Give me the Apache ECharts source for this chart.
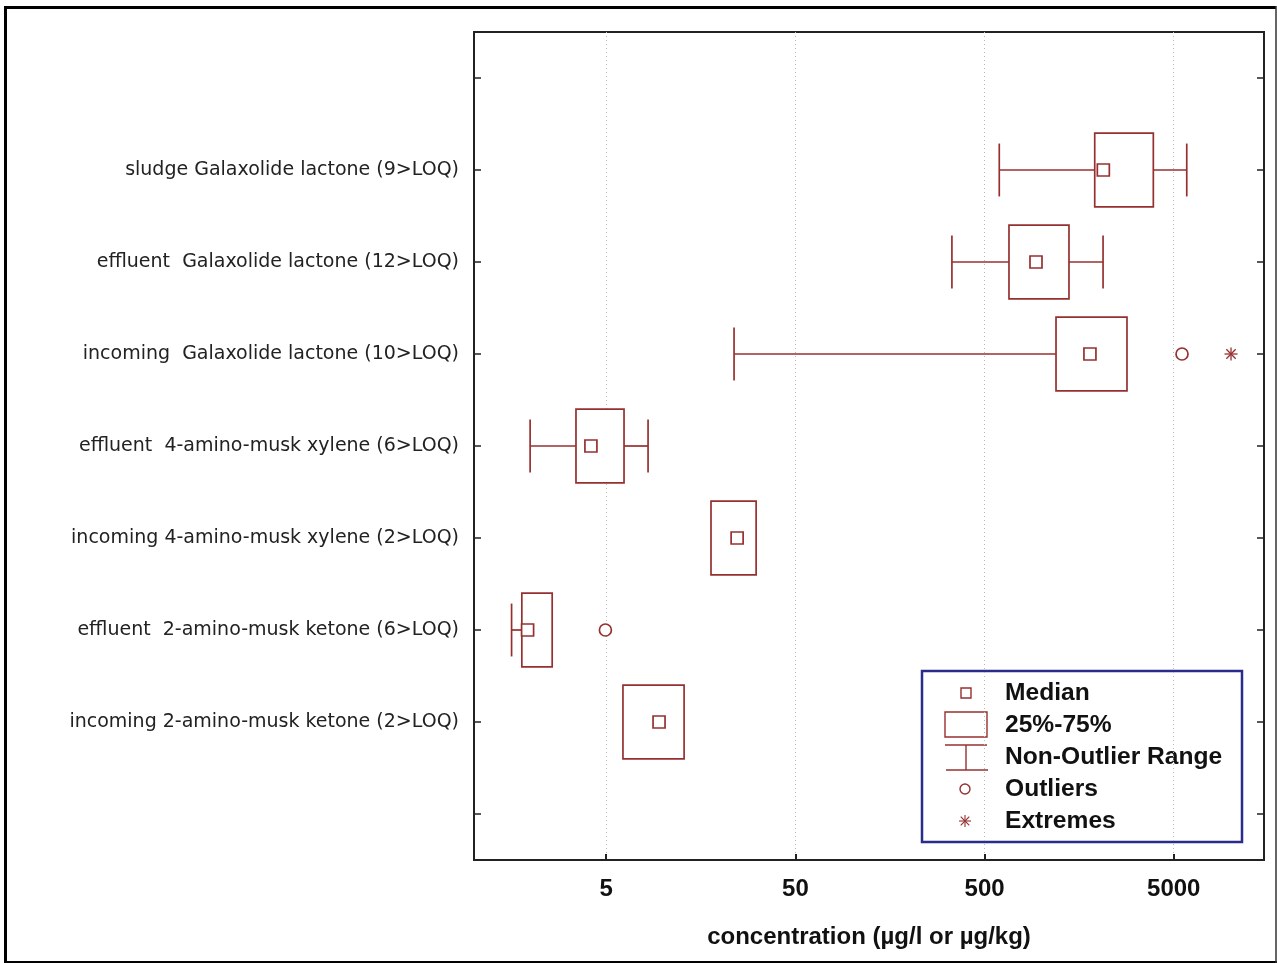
<!DOCTYPE html>
<html>
<head>
<meta charset="utf-8">
<script src="https://cdn.jsdelivr.net/npm/echarts@6/dist/echarts.min.js"></script>
<style>
html,body{margin:0;padding:0;background:#fff;}
#chart{width:1277px;height:963px;}
</style>
</head>
<body>
<div id="chart"></div>
<script>
// ---- data ----
var categories = [
  '',
  'sludge Galaxolide lactone (9>LOQ)',
  'effluent  Galaxolide lactone (12>LOQ)',
  'incoming  Galaxolide lactone (10>LOQ)',
  'effluent  4-amino-musk xylene (6>LOQ)',
  'incoming 4-amino-musk xylene (2>LOQ)',
  'effluent  2-amino-musk ketone (6>LOQ)',
  'incoming 2-amino-musk ketone (2>LOQ)',
  ''
];
var whiskerLow  = [null, 598, 336, 23.7, 1.98, 17.9, 1.58, 6.13, null];
var q1          = [null, 1911, 673, 1193, 3.46, 17.9, 1.79, 6.13, null];
var median      = [null, 2122, 935, 1803, 4.15, 24.6, 1.92, 9.51, null];
var q3          = [null, 3900, 1397, 2830, 6.21, 31.0, 2.59, 12.9, null];
var whiskerHigh = [null, 5858, 2115, 2830, 8.32, 31.0, 2.59, 12.9, null];
var outliers = [[3, 5530], [6, 4.95]];
var extremes = [[3, 10040]];
var xTicks = [5, 50, 500, 5000];
var legendLabels = ['Median', '25%-75%', 'Non-Outlier Range', 'Outliers', 'Extremes'];

var RED = '#963030';
var FONT = "'Liberation Sans', Arial, sans-serif";
var LABEL_FONT = "'DejaVu Sans', sans-serif";

var boxData = [];
for (var i = 0; i < categories.length; i++) {
  if (median[i] == null) continue;
  boxData.push([i, whiskerLow[i], q1[i], median[i], q3[i], whiskerHigh[i]]);
}

function bandOf(api, cat) {
  return api.size([0, 1], [5, cat])[1];
}

function lineEl(x1, y1, x2, y2, w) {
  return {type: 'line', shape: {x1: x1, y1: y1, x2: x2, y2: y2}, style: {stroke: RED, fill: null, lineWidth: w}};
}

function starLines(cx, cy, r, w) {
  var d = r * 0.72;
  return [
    lineEl(cx - r, cy, cx + r, cy, w),
    lineEl(cx, cy - r, cx, cy + r, w),
    lineEl(cx - d, cy - d, cx + d, cy + d, w),
    lineEl(cx - d, cy + d, cx + d, cy - d, w)
  ];
}

function renderBox(params, api) {
  var cat = api.value(0);
  var lo = api.coord([api.value(1), cat]);
  var a = api.coord([api.value(2), cat]);
  var m = api.coord([api.value(3), cat]);
  var b = api.coord([api.value(4), cat]);
  var hi = api.coord([api.value(5), cat]);
  var band = bandOf(api, cat);
  var bh = band * 0.80, ch = band * 0.575;
  var y = m[1];
  var kids = [];
  if (a[0] - lo[0] > 0.5) {
    kids.push(lineEl(lo[0], y, a[0], y, 1.7));
    kids.push(lineEl(lo[0], y - ch / 2, lo[0], y + ch / 2, 1.7));
  }
  if (hi[0] - b[0] > 0.5) {
    kids.push(lineEl(b[0], y, hi[0], y, 1.7));
    kids.push(lineEl(hi[0], y - ch / 2, hi[0], y + ch / 2, 1.7));
  }
  kids.push({type: 'rect', shape: {x: a[0], y: y - bh / 2, width: b[0] - a[0], height: bh}, style: {stroke: RED, fill: '#fff', lineWidth: 1.7}});
  kids.push({type: 'rect', shape: {x: m[0] - 6, y: y - 6, width: 12, height: 12}, style: {stroke: RED, fill: '#fff', lineWidth: 1.7}});
  return {type: 'group', children: kids};
}

function renderOutlier(params, api) {
  var p = api.coord([api.value(1), api.value(0)]);
  return {type: 'circle', shape: {cx: p[0], cy: p[1], r: 6}, style: {stroke: RED, fill: '#fff', lineWidth: 1.7}};
}

function renderExtreme(params, api) {
  var p = api.coord([api.value(1), api.value(0)]);
  return {type: 'group', children: starLines(p[0], p[1], 6.5, 1.3)};
}

// legend drawn with graphic elements
var LX = 922, LY = 671, LW = 320, LH = 171;
var iconCx = 966, textX = 1005, rowY0 = 693, rowDy = 32;
var legendChildren = [
  {type: 'rect', shape: {x: LX, y: LY, width: LW, height: LH}, style: {fill: '#fff', stroke: '#2b2b8c', lineWidth: 2.5}}
];
legendChildren.push({type: 'rect', shape: {x: iconCx - 5, y: rowY0 - 5, width: 10, height: 10}, style: {stroke: RED, fill: '#fff', lineWidth: 1.4}});
legendChildren.push({type: 'rect', shape: {x: 945, y: rowY0 + rowDy - 13, width: 42, height: 25}, style: {stroke: RED, fill: '#fff', lineWidth: 1.4}});
var wy = rowY0 + 2 * rowDy;
legendChildren.push(lineEl(945, wy - 12, 987, wy - 12, 1.4));
legendChildren.push(lineEl(966, wy - 12, 966, wy + 13, 1.4));
legendChildren.push(lineEl(946, wy + 13, 988, wy + 13, 1.4));
legendChildren.push({type: 'circle', shape: {cx: iconCx - 1, cy: rowY0 + 3 * rowDy, r: 5}, style: {stroke: RED, fill: '#fff', lineWidth: 1.4}});
legendChildren = legendChildren.concat(starLines(iconCx - 1, rowY0 + 4 * rowDy, 6, 1.1));
for (var k = 0; k < legendLabels.length; k++) {
  legendChildren.push({type: 'text', style: {x: textX, y: rowY0 + k * rowDy, text: legendLabels[k], font: 'bold 24.6px ' + FONT, fill: '#111', textVerticalAlign: 'middle', verticalAlign: 'middle'}});
}

var chart = echarts.init(document.getElementById('chart'), null, {renderer: 'canvas'});
chart.setOption({
  backgroundColor: '#fff',
  animation: false,
  grid: {left: 474, right: 13, top: 32, bottom: 103, show: true, borderColor: '#222', borderWidth: 2, backgroundColor: 'transparent'},
  xAxis: {
    type: 'log', logBase: 10, min: 1, max: 15000,
    name: 'concentration (\u00b5g/l or \u00b5g/kg)',
    nameLocation: 'middle', nameGap: 65,
    nameTextStyle: {fontFamily: FONT, fontWeight: 'bold', fontSize: 24, color: '#111'},
    axisLine: {show: true, lineStyle: {color: '#222', width: 2}},
    axisTick: {show: true, inside: true, length: 6, customValues: xTicks, lineStyle: {color: '#222', width: 2}},
    axisLabel: {customValues: xTicks, margin: 17, fontFamily: FONT, fontWeight: 'bold', fontSize: 24, color: '#111',
      formatter: function (v) { return String(Math.round(v)); }},
    splitLine: {show: true, lineStyle: {type: [1, 3], color: '#b8b8b8', width: 1}},
    minorTick: {show: false}, minorSplitLine: {show: false}
  },
  yAxis: [{
    type: 'category', data: categories, inverse: true, boundaryGap: true,
    axisLine: {show: true, lineStyle: {color: '#222', width: 2}},
    axisTick: {show: true, inside: true, alignWithLabel: true, length: 7, lineStyle: {color: '#222', width: 1.5}},
    axisLabel: {margin: 15, fontFamily: LABEL_FONT, fontSize: 19, color: '#222', interval: 0, padding: [3, 0, 0, 0]},
    splitLine: {show: false}
  }, {
    type: 'category', data: categories, inverse: true, boundaryGap: true, position: 'right',
    axisLine: {show: true, lineStyle: {color: '#222', width: 2}},
    axisTick: {show: true, inside: true, alignWithLabel: true, length: 7, lineStyle: {color: '#222', width: 1.5}},
    axisLabel: {show: false},
    splitLine: {show: false}
  }],
  series: [
    {type: 'custom', name: 'box', data: boxData, renderItem: renderBox, encode: {x: [1, 2, 3, 4, 5], y: 0}, clip: false, z: 3},
    {type: 'custom', name: 'Outliers', data: outliers, renderItem: renderOutlier, encode: {x: 1, y: 0}, z: 4},
    {type: 'custom', name: 'Extremes', data: extremes, renderItem: renderExtreme, encode: {x: 1, y: 0}, z: 4}
  ],
  graphic: [
    {type: 'group', z: 100, children: legendChildren},
    {type: 'line', z: 100, shape: {x1: 6, y1: 7.5, x2: 1276, y2: 7.5}, style: {stroke: '#000', lineWidth: 3}},
    {type: 'line', z: 100, shape: {x1: 5.5, y1: 6, x2: 5.5, y2: 963}, style: {stroke: '#000', lineWidth: 3}},
    {type: 'line', z: 100, shape: {x1: 6, y1: 962, x2: 1277, y2: 962}, style: {stroke: '#000', lineWidth: 2}},
    {type: 'line', z: 100, shape: {x1: 1276, y1: 6, x2: 1276, y2: 963}, style: {stroke: '#333', lineWidth: 1.5}}
  ]
});
</script>
</body>
</html>
